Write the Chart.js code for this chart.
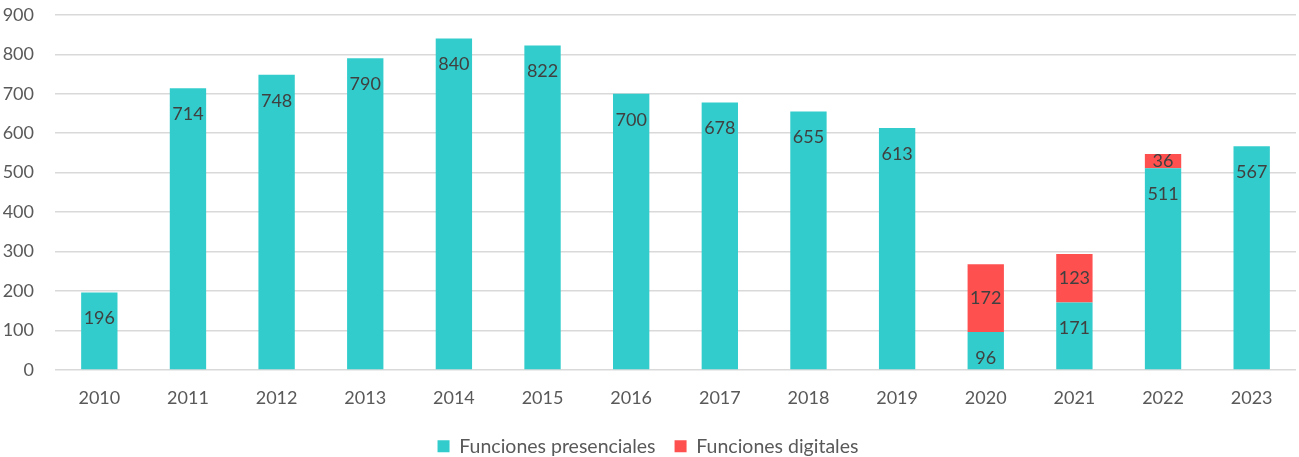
<!DOCTYPE html>
<html>
<head>
<meta charset="utf-8">
<script src="https://cdn.jsdelivr.net/npm/chart.js@4"></script>
<style>
  html, body { margin: 0; padding: 0; background: #fff; overflow: hidden; }
  #wrap { position: absolute; left: 0; top: -17px; width: 1299px; height: 474px; }
</style>
</head>
<body>
<div id="wrap"><canvas id="chart"></canvas></div>
<script>
// ═══ 데이터 ═══
const years       = ['2010','2011','2012','2013','2014','2015','2016','2017','2018','2019','2020','2021','2022','2023'];
const presenciales = [196, 714, 748, 790, 840, 822, 700, 678, 655, 613, 96, 171, 511, 567];
const digitales    = [null, null, null, null, null, null, null, null, null, null, 172, 123, 36, null];
const yTicks       = [0, 100, 200, 300, 400, 500, 600, 700, 800, 900];

const FONT = 'Lato, "Open Sans", sans-serif';

/**
 * 막대 라벨: 현장(presencial)은 안쪽 끝, 디지털은 가운데
 */
const barLabels = {
    id: 'barLabels',
    afterDatasetsDraw(chart) {
        const ctx = chart.ctx;
        ctx.save();
        ctx.font = '18px ' + FONT;
        ctx.fillStyle = '#404040';
        ctx.textAlign = 'center';
        ctx.textBaseline = 'middle';
        chart.data.datasets.forEach((ds, di) => {
            const meta = chart.getDatasetMeta(di);
            meta.data.forEach((bar, i) => {
                const v = ds.data[i];
                if (v == null) return;
                const top = bar.y, bottom = bar.base;
                const y = di === 0 ? top + 26 : (top + bottom) / 2;
                ctx.fillText(String(v), bar.x, y);
            });
        });
        ctx.restore();
    }
};

new Chart(document.getElementById('chart').getContext('2d'), {
    type: 'bar',
    data: {
        labels: years,
        datasets: [
            { label: 'Funciones presenciales', data: presenciales, backgroundColor: '#33CCCC', barPercentage: 0.41, categoryPercentage: 1 },
            { label: 'Funciones digitales',    data: digitales,    backgroundColor: '#FF5050', barPercentage: 0.41, categoryPercentage: 1 }
        ]
    },
    options: {
        responsive: true,
        maintainAspectRatio: false,
        animation: false,
        layout: { padding: { top: -12, right: 3, left: 0, bottom: -9 } },
        scales: {
            x: {
                stacked: true,
                grid: { display: false },
                border: { display: false },
                ticks: { color: '#595959', font: { family: FONT, size: 18 }, padding: 9 }
            },
            y: {
                stacked: true,
                min: 0, max: 900,
                afterBuildTicks: axis => { axis.ticks = yTicks.map(v => ({ value: v })); },
                afterFit: axis => { axis.width = 55; },
                grid: { color: '#D9D9D9', lineWidth: 1.5, drawTicks: false },
                border: { display: false },
                ticks: { color: '#595959', font: { family: FONT, size: 18 }, padding: 21 }
            }
        },
        plugins: {
            legend: {
                position: 'bottom',
                labels: { color: '#595959', font: { family: FONT, size: 19.5 }, boxWidth: 12, boxHeight: 12, padding: 19 }
            },
            tooltip: { enabled: false }
        }
    },
    plugins: [barLabels]
});
</script>
</body>
</html>
